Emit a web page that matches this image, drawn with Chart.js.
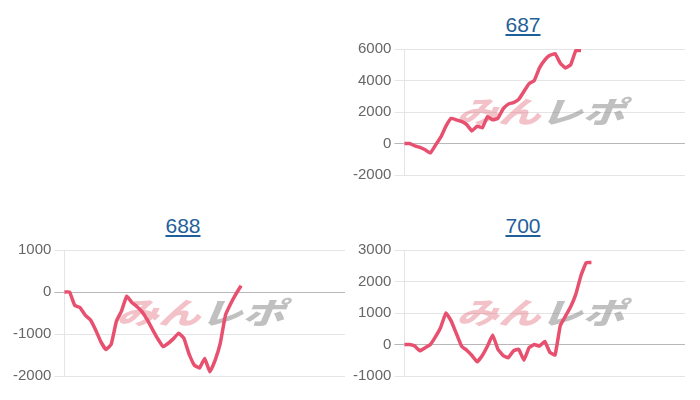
<!DOCTYPE html>
<html>
<head>
<meta charset="utf-8">
<script src="https://cdn.jsdelivr.net/npm/chart.js"></script>
<style>
  body { margin: 0; width: 700px; height: 400px; background: #fff; position: relative; overflow: hidden;
         font-family: "Liberation Sans", Arial, sans-serif; }
  .box { position: absolute; width: 340px; }
  .box a { position: absolute; left: 0; width: 340px; top: 13px; text-align: center; font-size: 21px;
           line-height: 24px; color: #1f5f9a; text-decoration: underline; }
  .box canvas { position: absolute; left: -3px; top: 37px; }
</style>
</head>
<body>

<div class="box" style="left:353px; top:0px;"><a href="#">687</a><canvas id="c687" width="335" height="150"></canvas></div>
<div class="box" style="left:13px; top:201px;"><a href="#">688</a><canvas id="c688" width="335" height="150"></canvas></div>
<div class="box" style="left:353px; top:201px;"><a href="#">700</a><canvas id="c700" width="335" height="150"></canvas></div>

<script>
// x positions (one per data step), shared by all three charts
var steps = [1,2,3,4,5,6,7,8,9,10,11,12,13,14,15,16,17,18,19,20,
             21,22,23,24,25,26,27,28,29,30,31,32,33,34,35,36,37,38,39,40,
             41,42,43,44,45,46,47,48,49,50,51,52,53,54,55];

var data687 = [0, 0, -150, -250, -400, -600, -100, 400, 1100, 1600,
               1500, 1400, 1200, 800, 1100, 1000, 1700, 1500, 1600, 2200,
               2500, 2600, 2800, 3300, 3800, 4000, 4800, 5300, 5600, 5700,
               5100, 4800, 5000, 5900, 5900];

var data688 = [0, 0, -320, -370, -550, -660, -900, -1180, -1370, -1250,
               -700, -450, -100, -250, -350, -480, -670, -900, -1120, -1300,
               -1220, -1110, -980, -1100, -1480, -1740, -1810, -1580, -1900, -1630,
               -1220, -550, -280, -50, 150];

var data700 = [0, 0, -50, -200, -100, 0, 250, 550, 1000, 750,
               350, -50, -180, -350, -550, -350, -50, 300, -150, -350,
               -420, -200, -150, -500, -100, 0, -50, 100, -250, -330,
               600, 900, 1200, 1600, 2200, 2600, 2600];

// y ranges: [min, max, step]
var range687 = [-2000, 6000, 2000];
var range688 = [-2000, 1000, 1000];
var range700 = [-1000, 3000, 1000];

var lineColor = "#e8506f";

var watermark = {
  id: "watermark",
  beforeDatasetsDraw: function(chart) {
    var ctx = chart.ctx, a = chart.chartArea;
    var cx = (a.left + a.right) / 2, cy = (a.top + a.bottom) / 2;
    ctx.save();
    ctx.font = "900 30px 'Noto Sans CJK JP'";
    ctx.textBaseline = "middle";
    var w1 = ctx.measureText("みん").width;
    var w2 = ctx.measureText("レポ").width;
    ctx.translate(cx, cy);
    ctx.scale(1.4, 1);
    ctx.transform(1, 0, -0.3, 1, 0, 0);
    var x0 = -(w1 + w2) / 2;
    ctx.fillStyle = "rgba(226, 110, 125, 0.42)";
    ctx.fillText("みん", x0, 0);
    ctx.fillStyle = "rgba(130, 130, 130, 0.5)";
    ctx.fillText("レポ", x0 + w1, 0);
    ctx.restore();
  }
};

function makeChart(id, values, range) {
  var gridColor = function(c) {
    return c.tick && c.tick.value === 0 ? "rgba(0,0,0,0.28)" : "rgba(0,0,0,0.1)";
  };
  new Chart(document.getElementById(id), {
    type: "line",
    data: {
      labels: steps,
      datasets: [{
        data: values,
        borderColor: lineColor,
        borderWidth: 3.5,
        fill: false,
        tension: 0.1,
        pointRadius: 0
      }]
    },
    options: {
      responsive: false,
      animation: false,
      plugins: { legend: { display: false }, tooltip: { enabled: false } },
      scales: {
        x: { display: false },
        y: {
          min: range[0],
          max: range[1],
          ticks: {
            stepSize: range[2],
            color: "#666",
            padding: 3,
            font: { family: "'Liberation Sans', Arial, sans-serif", size: 15 },
            callback: function(v) { return String(v); }
          },
          grid: { color: gridColor, tickLength: 10 },
          border: { color: "rgba(0,0,0,0.1)" }
        }
      }
    },
    plugins: [watermark]
  });
}

makeChart("c687", data687, range687);
makeChart("c688", data688, range688);
makeChart("c700", data700, range700);
</script>
</body>
</html>
